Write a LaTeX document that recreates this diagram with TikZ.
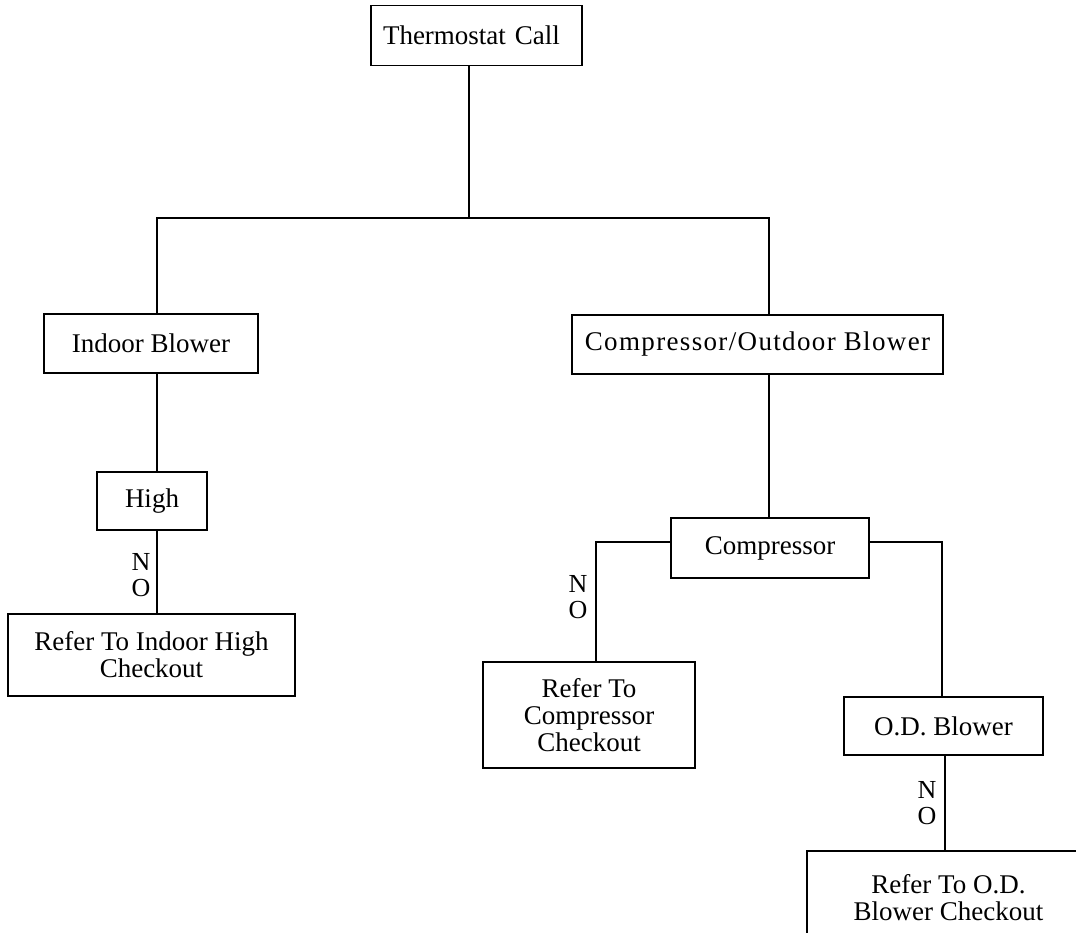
\documentclass[tikz,border=0pt]{standalone}
\usepackage{fontspec}
\setmainfont{Liberation Serif}
\begin{document}
\begin{tikzpicture}[x=1pt,y=-1pt,
  box/.style={draw,line width=1.9pt,inner sep=0pt,align=center,font=\fontsize{27}{27}\selectfont},
  lbl/.style={font=\fontsize{26}{26}\selectfont,align=center,inner sep=0pt},
  wire/.style={line width=1.9pt}]
\clip (0,0) rectangle (1076,932);
% boxes
\node[box,minimum width=211pt,minimum height=60pt,text width=187pt,inner xsep=12pt,align=left] (therm) at (476.5,35.5) {Thermostat Call};
\node[box,minimum width=214pt,minimum height=59pt] (indoor) at (151,343.5) {Indoor Blower};
\node[box,minimum width=371pt,minimum height=59pt] (cob) at (757.5,344.5) {\addfontfeatures{LetterSpace=5}Compressor/Outdoor Blower};
\node[box,minimum width=110pt,minimum height=58pt] (high) at (152,501) {High};
\node[box,minimum width=287pt,minimum height=82pt] (rih) at (151.5,655) {Refer To Indoor High\\Checkout};
\node[box,minimum width=198pt,minimum height=60pt] (comp) at (770,548) {Compressor};
\node[box,minimum width=212pt,minimum height=106pt] (rcc) at (589,715) {Refer To\\Compressor\\Checkout};
\node[box,minimum width=199pt,minimum height=58pt] (odb) at (943.5,726) {O.D. Blower};
\node[box,minimum width=283pt,minimum height=94pt] (rod) at (948.5,898) {Refer To O.D.\\Blower Checkout};
% junction coordinates
\coordinate (j) at (469,218);
\coordinate (jl) at (157,218);
\coordinate (jr) at (769,218);
\coordinate (cl) at (596,542);
\coordinate (cr) at (942,542);
\coordinate (od) at (945,800);
% connectors
\draw[wire] (therm.south -| j) -- (j);
\draw[wire] (indoor.north -| jl) -- (jl) -- (jr) -- (cob.north -| jr);
\draw[wire] (indoor.south -| jl) -- (high.north -| jl);
\draw[wire] (high.south -| jl) -- (rih.north -| jl);
\draw[wire] (cob.south -| jr) -- (comp.north -| jr);
\draw[wire] (comp.west |- cl) -- (cl) -- (rcc.north -| cl);
\draw[wire] (comp.east |- cr) -- (cr) -- (odb.north -| cr);
\draw[wire] (odb.south -| od) -- (rod.north -| od);
% NO labels
\node[lbl] (no1) at (141,575.5) {N\\O};
\node[lbl] (no2) at (578,597.5) {N\\O};
\node[lbl] (no3) at (927,803) {N\\O};
\end{tikzpicture}
\end{document}
